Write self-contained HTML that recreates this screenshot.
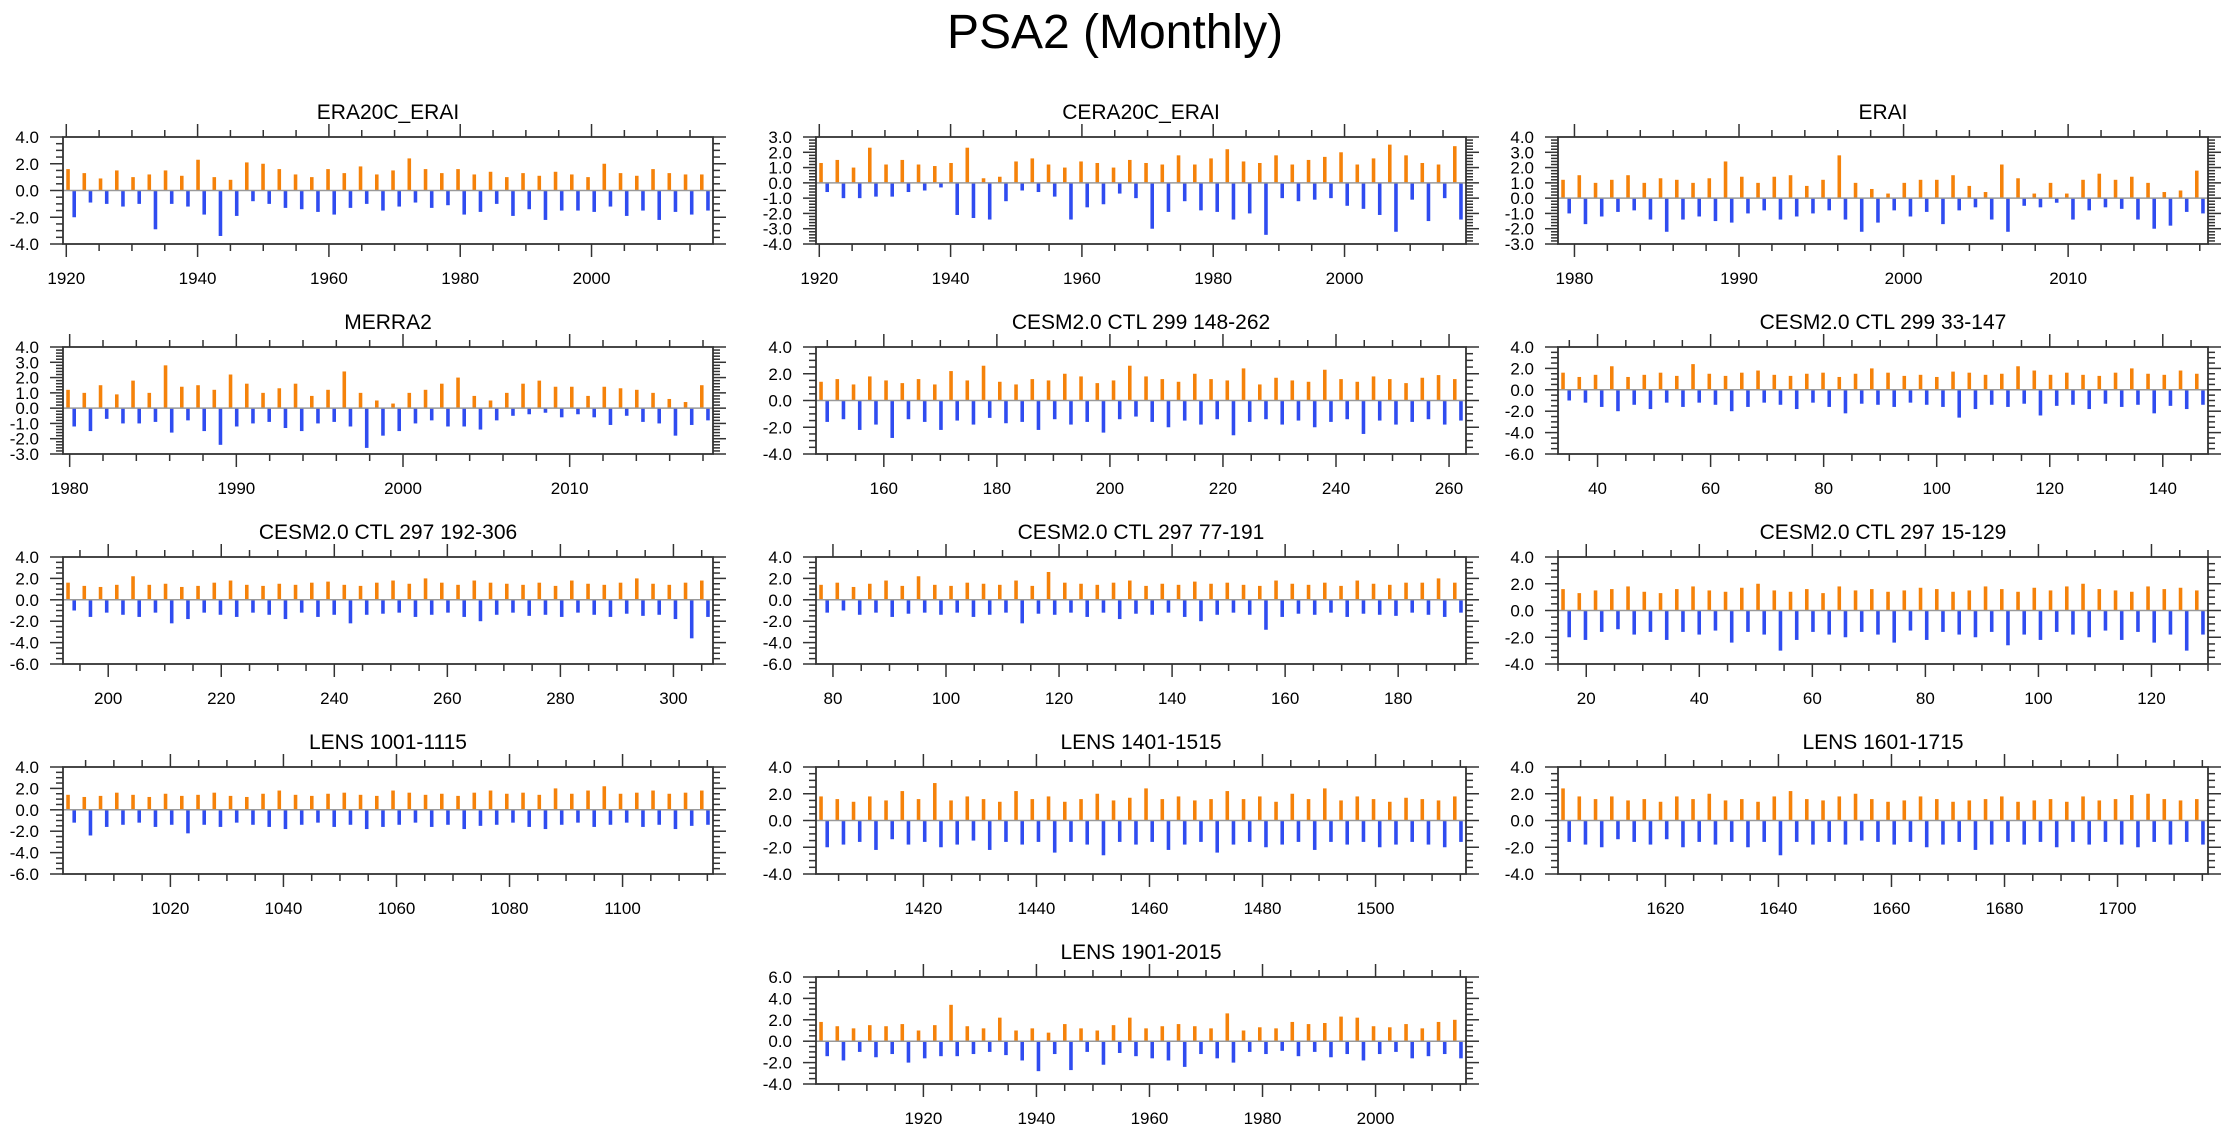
<!DOCTYPE html>
<html><head><meta charset="utf-8"><style>
html,body{margin:0;padding:0;background:#fff;}
svg{display:block;font-family:"Liberation Sans",Arial,sans-serif;}
</style></head><body>
<svg id="fig" width="2230" height="1133" viewBox="0 0 2230 1133">
<text x="1115" y="48" text-anchor="middle" font-size="48" fill="#000">PSA2 (Monthly)</text>
</svg>
<script>
// ---- data (binned anomaly extremes) ----
const era20cPos=[1.6,1.3,0.9,1.5,1.0,1.2,1.5,1.1,2.3,1.0,0.8,2.1,2.0,1.6,1.2,1.0,1.6,1.3,1.8,1.2,1.5,2.4,1.6,1.3,1.6,1.2,1.4,1.0,1.3,1.1,1.4,1.2,1.0,2.0,1.3,1.1,1.6,1.3,1.2,1.2];
const era20cNeg=[-2.0,-0.9,-1.0,-1.2,-1.0,-2.9,-1.0,-1.2,-1.8,-3.4,-1.9,-0.8,-1.0,-1.3,-1.4,-1.6,-1.8,-1.3,-1.0,-1.5,-1.2,-0.9,-1.3,-1.1,-1.8,-1.6,-1.0,-1.9,-1.4,-2.2,-1.5,-1.5,-1.6,-1.2,-1.9,-1.5,-2.2,-1.6,-1.8,-1.5];
const ceraPos=[1.3,1.5,1.0,2.3,1.2,1.5,1.2,1.1,1.3,2.3,0.3,0.4,1.4,1.6,1.2,1.0,1.4,1.3,1.0,1.5,1.3,1.2,1.8,1.2,1.6,2.2,1.4,1.3,1.8,1.2,1.5,1.7,2.0,1.2,1.6,2.5,1.8,1.3,1.2,2.4];
const ceraNeg=[-0.6,-1.0,-1.0,-0.9,-0.9,-0.6,-0.5,-0.3,-2.1,-2.3,-2.4,-1.2,-0.5,-0.6,-0.9,-2.4,-1.6,-1.4,-0.7,-1.0,-3.0,-1.9,-1.2,-1.8,-1.9,-2.4,-2.0,-3.4,-1.0,-1.2,-1.1,-1.0,-1.5,-1.7,-2.1,-3.2,-1.1,-2.5,-1.0,-2.4];
const eraiPos=[1.2,1.5,1.0,1.2,1.5,1.0,1.3,1.2,1.0,1.3,2.4,1.4,1.0,1.4,1.5,0.8,1.2,2.8,1.0,0.6,0.3,1.0,1.2,1.2,1.5,0.8,0.4,2.2,1.3,0.3,1.0,0.3,1.2,1.6,1.2,1.4,1.0,0.4,0.5,1.8];
const eraiNeg=[-1.0,-1.7,-1.2,-0.9,-0.8,-1.4,-2.2,-1.4,-1.2,-1.5,-1.6,-1.0,-0.8,-1.4,-1.2,-1.0,-0.8,-1.4,-2.2,-1.6,-0.8,-1.2,-0.9,-1.7,-0.8,-0.6,-1.4,-2.2,-0.5,-0.6,-0.3,-1.4,-0.8,-0.6,-0.7,-1.4,-2.0,-1.8,-0.9,-1.0];
const merraPos=[1.2,1.0,1.5,0.9,1.8,1.0,2.8,1.4,1.5,1.2,2.2,1.6,1.0,1.3,1.6,0.8,1.2,2.4,1.0,0.5,0.3,1.0,1.2,1.6,2.0,0.8,0.5,1.0,1.6,1.8,1.4,1.4,0.8,1.4,1.3,1.2,1.0,0.6,0.4,1.5];
const merraNeg=[-1.2,-1.5,-0.7,-1.0,-1.0,-0.9,-1.6,-0.8,-1.5,-2.4,-1.2,-1.0,-0.9,-1.3,-1.5,-1.0,-0.9,-1.2,-2.6,-1.8,-1.5,-1.0,-0.8,-1.2,-1.2,-1.4,-0.8,-0.5,-0.4,-0.3,-0.6,-0.4,-0.6,-1.1,-0.5,-0.9,-1.0,-1.8,-1.1,-0.8];
const c299aPos=[1.4,1.6,1.2,1.8,1.5,1.3,1.6,1.2,2.2,1.5,2.6,1.4,1.2,1.6,1.5,2.0,1.8,1.3,1.5,2.6,1.8,1.6,1.4,2.0,1.6,1.5,2.4,1.2,1.7,1.5,1.4,2.3,1.6,1.4,1.8,1.6,1.3,1.7,1.9,1.6];
const c299aNeg=[-1.6,-1.4,-2.2,-1.8,-2.8,-1.4,-1.6,-2.2,-1.5,-1.8,-1.3,-1.7,-1.6,-2.2,-1.4,-1.8,-1.6,-2.4,-1.4,-1.2,-1.6,-2.0,-1.5,-1.8,-1.4,-2.6,-1.6,-1.4,-1.8,-1.5,-2.0,-1.6,-1.4,-2.5,-1.5,-1.8,-1.6,-1.4,-1.8,-1.5];
const c299bPos=[1.6,1.2,1.4,2.2,1.2,1.4,1.6,1.3,2.4,1.5,1.3,1.6,1.8,1.4,1.3,1.5,1.6,1.2,1.5,2.0,1.6,1.3,1.4,1.2,1.7,1.6,1.4,1.5,2.2,1.8,1.4,1.6,1.4,1.3,1.6,2.0,1.5,1.4,1.8,1.5];
const c299bNeg=[-1.0,-1.2,-1.6,-2.0,-1.4,-1.8,-1.2,-1.6,-1.2,-1.4,-2.0,-1.6,-1.2,-1.4,-1.8,-1.2,-1.6,-2.2,-1.3,-1.4,-1.6,-1.2,-1.4,-1.6,-2.6,-1.8,-1.4,-1.6,-1.3,-2.4,-1.5,-1.4,-1.8,-1.3,-1.6,-1.4,-2.2,-1.5,-1.8,-1.4];
const c297aPos=[1.6,1.3,1.2,1.4,2.2,1.4,1.5,1.2,1.3,1.6,1.8,1.4,1.3,1.5,1.4,1.6,1.7,1.4,1.3,1.6,1.8,1.5,2.0,1.6,1.4,1.8,1.6,1.5,1.4,1.6,1.3,1.8,1.5,1.4,1.6,2.0,1.5,1.4,1.6,1.8];
const c297aNeg=[-1.0,-1.6,-1.2,-1.4,-1.6,-1.2,-2.2,-1.8,-1.2,-1.4,-1.6,-1.2,-1.4,-1.8,-1.2,-1.6,-1.4,-2.2,-1.4,-1.3,-1.2,-1.6,-1.4,-1.2,-1.6,-2.0,-1.4,-1.2,-1.5,-1.4,-1.6,-1.2,-1.4,-1.6,-1.3,-1.5,-1.4,-1.8,-3.6,-1.6];
const c297bPos=[1.4,1.6,1.2,1.5,1.8,1.3,2.2,1.4,1.3,1.6,1.5,1.4,1.8,1.3,2.6,1.6,1.5,1.4,1.6,1.8,1.3,1.5,1.4,1.7,1.5,1.6,1.4,1.3,1.8,1.5,1.4,1.6,1.3,1.8,1.5,1.4,1.6,1.6,2.0,1.6];
const c297bNeg=[-1.2,-1.0,-1.4,-1.2,-1.6,-1.3,-1.2,-1.4,-1.2,-1.6,-1.4,-1.2,-2.2,-1.3,-1.4,-1.2,-1.6,-1.2,-1.8,-1.3,-1.4,-1.2,-1.6,-2.0,-1.4,-1.2,-1.4,-2.8,-1.6,-1.3,-1.4,-1.2,-1.6,-1.3,-1.4,-1.5,-1.2,-1.4,-1.6,-1.2];
const c297cPos=[1.6,1.3,1.5,1.6,1.8,1.4,1.3,1.6,1.8,1.5,1.4,1.7,2.0,1.5,1.4,1.6,1.3,1.8,1.5,1.6,1.4,1.5,1.7,1.6,1.4,1.5,1.8,1.6,1.4,1.7,1.5,1.8,2.0,1.6,1.5,1.4,1.8,1.6,1.7,1.5];
const c297cNeg=[-2.0,-2.2,-1.6,-1.4,-1.8,-1.6,-2.2,-1.6,-1.8,-1.5,-2.4,-1.6,-1.8,-3.0,-2.2,-1.6,-1.8,-2.0,-1.6,-1.8,-2.4,-1.5,-2.2,-1.6,-1.8,-2.0,-1.6,-2.6,-1.8,-2.2,-1.6,-1.8,-2.0,-1.5,-2.2,-1.6,-2.4,-1.8,-3.0,-1.8];
const l1001Pos=[1.4,1.2,1.3,1.6,1.4,1.2,1.5,1.3,1.4,1.6,1.3,1.2,1.5,1.8,1.4,1.3,1.5,1.6,1.4,1.3,1.8,1.6,1.4,1.5,1.3,1.6,1.8,1.5,1.6,1.4,2.0,1.5,1.8,2.2,1.5,1.6,1.8,1.5,1.6,1.8];
const l1001Neg=[-1.2,-2.4,-1.6,-1.4,-1.2,-1.6,-1.4,-2.2,-1.4,-1.6,-1.2,-1.4,-1.6,-1.8,-1.4,-1.2,-1.6,-1.4,-1.8,-1.6,-1.4,-1.2,-1.6,-1.4,-1.8,-1.5,-1.4,-1.2,-1.6,-1.8,-1.4,-1.2,-1.6,-1.4,-1.2,-1.6,-1.4,-1.8,-1.5,-1.4];
const l1401Pos=[1.8,1.6,1.4,1.8,1.5,2.2,1.6,2.8,1.5,1.8,1.6,1.4,2.2,1.6,1.8,1.4,1.6,2.0,1.5,1.7,2.4,1.6,1.8,1.5,1.6,2.2,1.6,1.8,1.4,2.0,1.6,2.4,1.5,1.8,1.6,1.4,1.7,1.6,1.5,1.8];
const l1401Neg=[-2.0,-1.8,-1.6,-2.2,-1.4,-1.8,-1.6,-2.0,-1.8,-1.5,-2.2,-1.6,-1.8,-1.6,-2.4,-1.6,-1.8,-2.6,-1.6,-1.8,-1.6,-2.2,-1.8,-1.6,-2.4,-1.8,-1.6,-2.0,-1.8,-1.6,-2.2,-1.6,-1.8,-1.6,-2.0,-1.8,-1.6,-1.8,-2.0,-1.6];
const l1601Pos=[2.4,1.8,1.6,1.8,1.5,1.6,1.4,1.8,1.6,2.0,1.5,1.6,1.4,1.8,2.2,1.6,1.5,1.8,2.0,1.6,1.4,1.5,1.8,1.6,1.4,1.5,1.6,1.8,1.4,1.5,1.6,1.4,1.8,1.5,1.6,1.9,2.0,1.6,1.5,1.6];
const l1601Neg=[-1.6,-1.8,-2.0,-1.4,-1.6,-1.8,-1.4,-2.0,-1.6,-1.8,-1.6,-2.0,-1.6,-2.6,-1.6,-1.8,-1.6,-1.8,-1.5,-1.6,-1.8,-1.6,-2.0,-1.8,-1.6,-2.2,-1.8,-1.6,-1.8,-1.6,-2.0,-1.6,-1.8,-1.6,-1.8,-2.0,-1.6,-1.8,-1.6,-1.8];
const l1901Pos=[1.8,1.4,1.2,1.5,1.4,1.6,1.0,1.5,3.4,1.4,1.2,2.2,1.0,1.2,0.8,1.6,1.2,1.0,1.5,2.2,1.2,1.4,1.6,1.4,1.2,2.6,1.0,1.3,1.2,1.8,1.6,1.7,2.3,2.2,1.4,1.3,1.6,1.2,1.8,2.0];
const l1901Neg=[-1.4,-1.8,-1.0,-1.5,-1.2,-2.0,-1.6,-1.4,-1.4,-1.2,-1.0,-1.3,-1.8,-2.8,-1.2,-2.7,-1.0,-2.2,-1.1,-1.4,-1.6,-1.8,-2.4,-1.2,-1.6,-2.0,-1.0,-1.2,-0.9,-1.4,-1.0,-1.5,-1.2,-1.8,-1.2,-1.0,-1.6,-1.4,-1.2,-1.6];
// tick labels
const ticksCentury=[1920,1940,1960,1980,2000];
const ticksErai=[1980,1990,2000,2010];
const ticks299a=[160,180,200,220,240,260];
const ticks299b=[40,60,80,100,120,140];
const ticks297a=[200,220,240,260,280,300];
const ticks297b=[80,100,120,140,160,180];
const ticks297c=[20,40,60,80,100,120];
const ticksL1001=[1020,1040,1060,1080,1100];
const ticksL1401=[1420,1440,1460,1480,1500];
const ticksL1601=[1620,1640,1660,1680,1700];
const ticksL1901=[1920,1940,1960,1980,2000];

const panels=[
 {name:"ERA20C_ERAI",col:0,row:0,x0:1919.5,x1:2018.5,y0:-4,y1:4,ys:2,pos:era20cPos,neg:era20cNeg,ticks:ticksCentury,maj:20,min:5},
 {name:"CERA20C_ERAI",col:1,row:0,x0:1919.5,x1:2018.5,y0:-4,y1:3,ys:1,pos:ceraPos,neg:ceraNeg,ticks:ticksCentury,maj:20,min:5},
 {name:"ERAI",col:2,row:0,x0:1979,x1:2018.5,y0:-3,y1:4,ys:1,pos:eraiPos,neg:eraiNeg,ticks:ticksErai,maj:10,min:2},
 {name:"MERRA2",col:0,row:1,x0:1979.6,x1:2018.6,y0:-3,y1:4,ys:1,pos:merraPos,neg:merraNeg,ticks:ticksErai,maj:10,min:2},
 {name:"CESM2.0 CTL 299 148-262",col:1,row:1,x0:148,x1:263,y0:-4,y1:4,ys:2,pos:c299aPos,neg:c299aNeg,ticks:ticks299a,maj:20,min:5},
 {name:"CESM2.0 CTL 299 33-147",col:2,row:1,x0:33,x1:148,y0:-6,y1:4,ys:2,pos:c299bPos,neg:c299bNeg,ticks:ticks299b,maj:20,min:5},
 {name:"CESM2.0 CTL 297 192-306",col:0,row:2,x0:192,x1:307,y0:-6,y1:4,ys:2,pos:c297aPos,neg:c297aNeg,ticks:ticks297a,maj:20,min:5},
 {name:"CESM2.0 CTL 297 77-191",col:1,row:2,x0:77,x1:192,y0:-6,y1:4,ys:2,pos:c297bPos,neg:c297bNeg,ticks:ticks297b,maj:20,min:5},
 {name:"CESM2.0 CTL 297 15-129",col:2,row:2,x0:15,x1:130,y0:-4,y1:4,ys:2,pos:c297cPos,neg:c297cNeg,ticks:ticks297c,maj:20,min:5},
 {name:"LENS 1001-1115",col:0,row:3,x0:1001,x1:1116,y0:-6,y1:4,ys:2,pos:l1001Pos,neg:l1001Neg,ticks:ticksL1001,maj:20,min:5},
 {name:"LENS 1401-1515",col:1,row:3,x0:1401,x1:1516,y0:-4,y1:4,ys:2,pos:l1401Pos,neg:l1401Neg,ticks:ticksL1401,maj:20,min:5},
 {name:"LENS 1601-1715",col:2,row:3,x0:1601,x1:1716,y0:-4,y1:4,ys:2,pos:l1601Pos,neg:l1601Neg,ticks:ticksL1601,maj:20,min:5},
 {name:"LENS 1901-2015",col:1,row:4,x0:1901,x1:2016,y0:-4,y1:6,ys:2,pos:l1901Pos,neg:l1901Neg,ticks:ticksL1901,maj:20,min:5}
];
const colLeft=[63,816,1558], rowTop=[137,347,557,767,977], W=650, H=107;
const NS="http://www.w3.org/2000/svg";
const svg=document.getElementById('fig');
function mk(tag,attrs,parent){const e=document.createElementNS(NS,tag);for(const k in attrs)e.setAttribute(k,attrs[k]);(parent||svg).appendChild(e);return e;}
function slug(s){return s.toLowerCase().replace(/[^a-z0-9]+/g,'-').replace(/^-|-$/g,'');}
panels.forEach(p=>{
  const L=colLeft[p.col],T=rowTop[p.row],R=L+W,B=T+H;
  const g=mk('g',{});
  
  
  const sx=v=>L+(v-p.x0)/(p.x1-p.x0)*W;
  const sy=v=>B-(v-p.y0)/(p.y1-p.y0)*H;
  const t=mk('text',{x:(L+R)/2,y:T-18,'text-anchor':'middle','font-size':21,fill:'#000'},g);
  t.textContent=p.name;
  
  
  const n=p.pos.length, bw=(p.x1-p.x0)/n, pxBin=W/n;
  for(let i=0;i<n;i++){
    const xc=sx(p.x0+bw*(i+0.5));
    const w=pxBin*0.22;
    const vp=p.pos[i], vn=p.neg[i];
    const r1=mk('rect',{x:xc-pxBin*0.3,y:sy(vp),width:w,height:sy(0)-sy(vp),fill:'#f5820a'},g);
    
    
    const r2=mk('rect',{x:xc+pxBin*0.08,y:sy(0),width:w,height:sy(vn)-sy(0),fill:'#2f4cf0'},g);
    
    
  }
  const z=mk('line',{x1:L,x2:R,y1:sy(0),y2:sy(0),stroke:'#999','stroke-width':1.5},g);
  
  
  const ymin=p.ys===2?0.5:0.2;
  for(let v=p.y0;v<=p.y1+1e-6;v+=ymin){
    const isMaj=Math.abs(v/p.ys-Math.round(v/p.ys))<1e-6;
    const len=isMaj?13:7,y=sy(v);
    mk('line',{x1:L-len,x2:L,y1:y,y2:y,stroke:'#333','stroke-width':1.5},g);
    mk('line',{x1:R,x2:R+len,y1:y,y2:y,stroke:'#333','stroke-width':1.5},g);
    if(isMaj){
      const lb=mk('text',{x:L-24,y:y+6,'text-anchor':'end','font-size':17,fill:'#000'},g);
      lb.textContent=(Math.abs(v)<1e-6?0:v).toFixed(1);
      
      
    }
  }
  const start=Math.ceil(p.x0/p.min)*p.min;
  for(let v=start;v<=p.x1;v+=p.min){
    const isMaj=v%p.maj===0,len=isMaj?13:7,x=sx(v);
    mk('line',{x1:x,x2:x,y1:B,y2:B+len,stroke:'#333','stroke-width':1.5},g);
    mk('line',{x1:x,x2:x,y1:T-len,y2:T,stroke:'#333','stroke-width':1.5},g);
  }
  p.ticks.forEach(v=>{
    const lb=mk('text',{x:sx(v),y:B+40,'text-anchor':'middle','font-size':17,fill:'#000'},g);
    lb.textContent=v;
    
    
  });
  const box=mk('rect',{x:L,y:T,width:W,height:H,fill:'none',stroke:'#333','stroke-width':1.8},g);
  
  
});
</script>
</body></html>
